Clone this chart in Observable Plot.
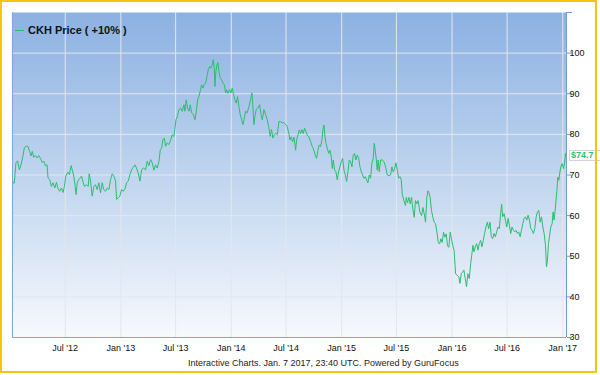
<!DOCTYPE html>
<html><head><meta charset="utf-8">
<script src="https://cdn.jsdelivr.net/npm/d3@7"></script>
<script src="https://cdn.jsdelivr.net/npm/@observablehq/plot@0.6"></script>
<style>
body{margin:0;background:#fff;font-family:"Liberation Sans",Arial,sans-serif;}
#wrap{position:relative;width:600px;height:375px;overflow:hidden;background:#fff;}
#chart{position:absolute;left:0;top:0;}
#frame{position:absolute;left:0;top:0;width:597px;height:373px;box-sizing:border-box;border:2px solid #f6c409;pointer-events:none;}
#legend{position:absolute;left:15px;top:23px;font-size:11px;font-weight:bold;color:#111;display:flex;align-items:center;line-height:14px;}
#legend .sw{display:inline-block;width:9px;height:1px;background:#2dbd6e;margin-right:4px;}
#footer{position:absolute;top:357px;left:188px;font-size:9px;color:#222;white-space:nowrap;line-height:12px;}
#tag{position:absolute;left:569px;width:40px;height:9px;background:#fff;border:1px solid #d0d4da;font-size:9px;font-weight:bold;color:#2dbd6e;line-height:9px;padding-left:1px;box-sizing:content-box;}
</style>
</head><body>
<div id="wrap">
  <div id="chart"></div>
  <div id="legend"><span class="sw"></span><span id="legendText"></span></div>
  <div id="tag"></div>
  <div id="footer"></div>
  <div id="frame"></div>
</div>
<script>
const seriesName = "CKH Price ( +10% )";
const footerText = "Interactive Charts. Jan. 7 2017, 23:40 UTC. Powered by GuruFocus";
const lastPriceLabel = "$74.7";
const lastPrice = 74.7;
const xDomain = [2012.021, 2017.034];
const yDomain = [30, 110];
const yTicks = [30, 40, 50, 60, 70, 80, 90, 100, 110];
const tickDates = ["2012-07-01","2013-01-01","2013-07-01","2014-01-01","2014-07-01","2015-01-01","2015-07-01","2016-01-01","2016-07-01","2017-01-01"];
const tickLabels = ["Jul '12","Jan '13","Jul '13","Jan '14","Jul '14","Jan '15","Jul '15","Jan '16","Jul '16","Jan '17"];

const times = [
2012.022,2012.037,2012.052,2012.067,2012.083,2012.098,2012.116,2012.128,2012.146,2012.161,
2012.176,2012.188,2012.200,2012.212,2012.227,2012.243,2012.258,2012.279,2012.291,2012.303,
2012.318,2012.333,2012.342,2012.357,2012.372,2012.387,2012.403,2012.418,2012.433,2012.448,
2012.463,2012.478,2012.490,2012.502,2012.520,2012.535,2012.551,2012.563,2012.575,2012.587,
2012.596,2012.605,2012.620,2012.635,2012.644,2012.659,2012.671,2012.689,2012.705,2012.714,
2012.726,2012.741,2012.756,2012.771,2012.786,2012.801,2012.816,2012.831,2012.846,2012.862,
2012.877,2012.892,2012.907,2012.922,2012.937,2012.952,2012.961,2012.976,2012.991,2013.006,
2013.022,2013.037,2013.052,2013.067,2013.082,2013.097,2013.112,2013.127,2013.142,2013.157,
2013.173,2013.188,2013.203,2013.224,2013.239,2013.254,2013.269,2013.284,2013.299,2013.314,
2013.329,2013.345,2013.357,2013.369,2013.381,2013.393,2013.405,2013.420,2013.435,2013.450,
2013.465,2013.480,2013.489,2013.499,2013.511,2013.526,2013.541,2013.556,2013.571,2013.580,
2013.592,2013.604,2013.617,2013.629,2013.641,2013.656,2013.671,2013.683,2013.695,2013.707,
2013.722,2013.731,2013.743,2013.755,2013.768,2013.783,2013.792,2013.804,2013.816,2013.828,
2013.837,2013.846,2013.852,2013.861,2013.870,2013.879,2013.888,2013.900,2013.913,2013.925,
2013.937,2013.949,2013.958,2013.970,2013.985,2013.997,2014.009,2014.021,2014.033,2014.045,
2014.057,2014.069,2014.081,2014.094,2014.106,2014.118,2014.130,2014.145,2014.160,2014.175,
2014.187,2014.196,2014.205,2014.214,2014.226,2014.241,2014.257,2014.269,2014.281,2014.296,
2014.311,2014.326,2014.341,2014.353,2014.365,2014.377,2014.389,2014.402,2014.417,2014.432,
2014.447,2014.462,2014.477,2014.492,2014.507,2014.522,2014.531,2014.543,2014.556,2014.568,
2014.583,2014.592,2014.604,2014.616,2014.628,2014.640,2014.652,2014.664,2014.676,2014.689,
2014.704,2014.719,2014.734,2014.749,2014.764,2014.773,2014.785,2014.797,2014.809,2014.821,
2014.830,2014.840,2014.849,2014.858,2014.870,2014.882,2014.894,2014.906,2014.915,2014.924,
2014.936,2014.948,2014.960,2014.972,2014.984,2014.997,2015.009,2015.021,2015.033,2015.045,
2015.057,2015.069,2015.081,2015.093,2015.105,2015.117,2015.129,2015.141,2015.154,2015.166,
2015.178,2015.190,2015.202,2015.214,2015.226,2015.238,2015.250,2015.262,2015.274,2015.286,
2015.295,2015.304,2015.313,2015.322,2015.331,2015.340,2015.353,2015.368,2015.383,2015.398,
2015.413,2015.428,2015.443,2015.455,2015.467,2015.480,2015.492,2015.504,2015.516,2015.528,
2015.540,2015.549,2015.564,2015.579,2015.585,2015.597,2015.609,2015.621,2015.633,2015.645,
2015.657,2015.669,2015.681,2015.693,2015.709,2015.724,2015.736,2015.748,2015.760,2015.772,
2015.781,2015.790,2015.802,2015.814,2015.826,2015.838,2015.851,2015.863,2015.875,2015.887,
2015.899,2015.911,2015.923,2015.935,2015.947,2015.959,2015.971,2015.983,2015.995,2016.007,
2016.019,2016.032,2016.047,2016.062,2016.071,2016.083,2016.095,2016.107,2016.119,2016.131,
2016.143,2016.156,2016.168,2016.180,2016.189,2016.198,2016.210,2016.222,2016.234,2016.246,
2016.258,2016.270,2016.282,2016.294,2016.306,2016.319,2016.331,2016.343,2016.355,2016.367,
2016.379,2016.391,2016.403,2016.415,2016.427,2016.439,2016.448,2016.457,2016.470,2016.482,
2016.494,2016.506,2016.518,2016.530,2016.542,2016.554,2016.566,2016.578,2016.590,2016.602,
2016.615,2016.627,2016.639,2016.651,2016.663,2016.675,2016.687,2016.699,2016.711,2016.723,
2016.735,2016.747,2016.760,2016.772,2016.784,2016.796,2016.808,2016.820,2016.832,2016.844,
2016.853,2016.862,2016.871,2016.880,2016.892,2016.904,2016.913,2016.922,2016.934,2016.947,
2016.956,2016.965,2016.974,2016.983,2016.995,2017.007,2017.016,2017.025,2017.031
];
const prices = [
68.1,68,73,73.5,71.3,72.5,74.8,76.7,77.1,77,
75.8,74.7,75.8,74.4,74.8,74.2,74.8,73.8,73,73.4,
72.3,72.5,69.3,68.9,67.2,68.1,66.8,68.2,66.6,66,
66.8,65.7,67.2,69.7,70.7,70.1,72.3,71,69.7,67.2,
65.2,68.1,68.9,69.3,69.7,68.2,67.2,67.6,67.2,70.3,
68.5,64.8,67.2,67.6,66.4,68.1,65.6,68.1,66.4,66,
66.8,66.4,68.9,70.3,69.7,68.5,64,64.4,64.8,66.4,
66,66.6,68.1,68.5,70.1,71.3,71.9,72.5,71.7,70.5,
68.5,71.3,71.7,71.3,73.4,72.3,73.8,73,71.2,72.5,
71.7,73.4,76.2,76.6,78.7,79.1,77.1,77.9,77.5,78.5,
79.9,79.5,81.2,83.6,84.4,86.1,86.5,85.7,87.3,85.7,
88.5,86.5,85.7,87.3,85.3,84.9,83.6,85.7,88.5,89.3,
91,92.2,91.4,92.2,92.6,94.7,95.9,96.7,96.3,97.1,
98.4,96.3,91.8,95.5,97.1,97.7,95.5,93.9,93.4,92.6,
92.2,90.2,91,90.1,91,90.2,91.4,89.8,88.5,87.7,
89.3,86.9,84.9,83.6,82.4,84,85.7,85.3,86.9,88.5,
90.2,86.9,82.4,84.4,86.1,86.5,87.3,84.9,83.6,86.1,
84.9,83.6,81.6,79.5,81.2,79.1,79.9,80.3,79.9,83.2,
83.1,82.9,82.9,82.5,81.9,80.2,78.6,79.4,78.2,79.3,
76.1,78.6,79.8,81.1,80.2,81.2,80.2,81.5,80.7,79.8,
79.4,78.2,77,76.1,74.5,74.1,76.1,77.4,77,78.6,
81.1,82.3,79.4,77.8,76.6,75.3,76.1,74.5,71.6,73.7,
71.2,70.8,68.8,70.8,72,73.3,74.1,71.2,70,68.4,
70.8,73.7,73.3,72,74.9,75.3,73.7,74.9,74.1,72,
70.8,70,69.2,69.6,68.8,68.1,70,69.2,72.9,74.1,
77.8,76.1,74.1,71.2,73.7,70.8,73.7,73.7,73.3,72,
70,69.8,70,72,70.8,71.6,73,71.2,69.2,69.6,
68.8,65.3,63.7,62.5,64.5,63.2,64.5,62.9,64.5,61.6,
59.6,63.7,62.9,63.7,60.8,60,62,60.4,58.4,64.5,
66.1,65.7,64.5,61.2,59.6,58.4,58,55.9,53.4,53,
54.3,53.4,55.9,54.7,55.5,52.6,52.2,55.9,54.3,52.6,
51.4,45.7,45.3,44.9,43.3,45.7,46.1,46.6,44.5,42.5,
45.7,44.5,48.2,50.7,52.7,51.1,52.3,53.1,51.5,53.1,
53.9,52.3,53.9,55.6,57.2,58.4,56.8,58.4,54.8,54.3,
55.6,54.8,56,57.2,56.8,60.5,62.8,59.7,60.5,58.9,
57.2,59.3,57.6,55.6,57.2,56.4,56,56.4,55.6,56,
54.8,56.4,58,59.3,59.7,58.9,60.1,58.9,56.8,56.4,
55.6,56.8,59.7,60.9,61.3,58.4,59.7,57.2,55.6,52.7,
47.4,49,53.1,54.8,57.2,58,60.9,58.9,62.1,66.2,
69.5,68.7,70.7,72,72.8,71.6,72.8,75.3,74.7
];

function yearToDate(t) {
  const y = Math.floor(t);
  const a = Date.UTC(y, 0, 1), b = Date.UTC(y + 1, 0, 1);
  return new Date(a + (t - y) * (b - a));
}
const data = times.map((t, i) => ({date: yearToDate(t), price: prices[i]}));
const ticks = tickDates.map(s => new Date(s + "T00:00:00Z"));
const dom = xDomain.map(yearToDate);

const axisBlue = "#6f9bd8";
const gridCol = "#e2e7ee";

const plot = Plot.plot({
  width: 600, height: 355,
  marginLeft: 12, marginRight: 34, marginTop: 12, marginBottom: 18,
  style: {fontFamily: "'Liberation Sans', Arial, sans-serif", fontSize: "9px", background: "transparent", color: "#111", overflow: "visible"},
  x: {type: "utc", domain: dom, label: null},
  y: {domain: yDomain, label: null},
  marks: [
    Plot.frame({fill: "url(#bgGrad)", stroke: null}),
    Plot.gridY(yTicks.slice(0, -1), {stroke: gridCol, strokeOpacity: 1}),
    Plot.gridX(ticks, {stroke: gridCol, strokeOpacity: 1}),
    Plot.ruleX([dom[0]], {stroke: "#7ea6dd"}),
    Plot.ruleY([yDomain[0]], {stroke: "#7ea6dd"}),
    Plot.axisX(ticks, {tickSize: 0, tickPadding: 7, fill: "#111", label: null,
      tickFormat: d => tickLabels[ticks.findIndex(t => +t === +d)]}),
    Plot.axisY(yTicks, {anchor: "right", tickSize: 5, tickPadding: -2, stroke: axisBlue, fill: "#111", label: null,
      tickFormat: d => d === 110 ? "" : String(d)}),
    Plot.ruleX([dom[1]], {stroke: axisBlue}),
    Plot.lineY(data, {x: "date", y: "price", stroke: "#2dbd6e", strokeWidth: 1})
  ]
});

const ns = "http://www.w3.org/2000/svg";
const defs = document.createElementNS(ns, "defs");
const grad = document.createElementNS(ns, "linearGradient");
grad.setAttribute("id", "bgGrad");
grad.setAttribute("x1", "0"); grad.setAttribute("y1", "0");
grad.setAttribute("x2", "0"); grad.setAttribute("y2", "1");
[["0%", "#8cb1e2"], ["55%", "#c5d8f0"], ["100%", "#f7f9fd"]].forEach(([o, c]) => {
  const s = document.createElementNS(ns, "stop");
  s.setAttribute("offset", o); s.setAttribute("stop-color", c);
  grad.appendChild(s);
});
defs.appendChild(grad);
plot.insertBefore(defs, plot.firstChild);
document.getElementById("chart").appendChild(plot);

document.getElementById("legendText").textContent = seriesName;
document.getElementById("footer").textContent = footerText;
const tag = document.getElementById("tag");
tag.textContent = lastPriceLabel;
tag.style.top = (plot.scale("y").apply(lastPrice) - 5.5) + "px";
</script>
</body></html>
